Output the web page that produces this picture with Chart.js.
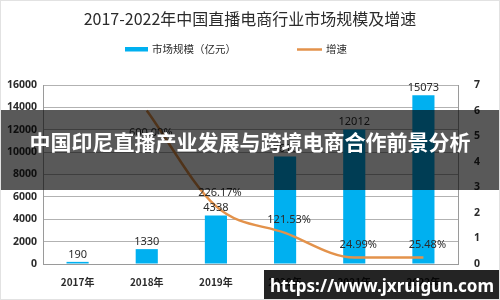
<!DOCTYPE html>
<html>
<head>
<meta charset="utf-8">
<script src="https://cdn.jsdelivr.net/npm/chart.js@4"></script>
<style>
  html, body { margin: 0; padding: 0; background: #fff; }
  canvas { display: block; }
</style>
</head>
<body>
<canvas id="chart" width="500" height="300"></canvas>
<script>
// data
const years = ['2017年', '2018年', '2019年', '2020年', '2021年', '2022年'];
const marketSize = [190, 1330, 4338, 9610, 12012, 15073];        // 亿元
const growth = [null, 6.00, 2.2617, 1.2153, 0.2499, 0.2548];     // 600% = 6
const growthLabels = [null, '600.00%', '226.17%', '121.53%', '24.99%', '25.48%'];

const chartTitle = '2017-2022年中国直播电商行业市场规模及增速';
const bannerText = '中国印尼直播产业发展与跨境电商合作前景分析';
const watermark = 'https://www.jxruigun.com';

const BLUE = '#00b0f0';
const ORANGE = '#e3924b';
const TEXT = '#2b2b2b';
const CJK = '"Noto Sans CJK SC", "Noto Sans", sans-serif';

// value labels, title, legend and the overlays
const decorPlugin = {
  id: 'decor',
  afterDatasetsDraw(chart) {
    const ctx = chart.ctx;
    ctx.save();
    ctx.fillStyle = TEXT;
    ctx.textAlign = 'center';

    // bar values
    ctx.font = '11px "Noto Sans", sans-serif';
    ctx.textBaseline = 'bottom';
    chart.getDatasetMeta(0).data.forEach((el, i) => {
      ctx.fillText(String(marketSize[i]), el.x, el.y - 2);
    });

    // growth labels (first one sits under the line)
    ctx.textBaseline = 'middle';
    chart.getDatasetMeta(1).data.forEach((el, i) => {
      if (!growthLabels[i]) return;
      const dy = i === 1 ? 22 : -13;
      ctx.fillText(growthLabels[i], el.x + 4, el.y + dy);
    });
    ctx.restore();
  },
  afterDraw(chart) {
    const ctx = chart.ctx;
    const W = chart.width;
    ctx.save();

    // title
    ctx.fillStyle = TEXT;
    ctx.textAlign = 'center';
    ctx.textBaseline = 'middle';
    ctx.font = '16px ' + CJK;
    ctx.fillText(chartTitle, W / 2, 19);

    // legend
    ctx.font = '10.5px ' + CJK;
    ctx.textAlign = 'left';
    ctx.fillStyle = BLUE;
    ctx.fillRect(125, 47, 23, 4.5);
    ctx.fillStyle = TEXT;
    ctx.fillText(chart.data.datasets[0].label, 152, 49.5);
    ctx.strokeStyle = ORANGE;
    ctx.lineWidth = 2.5;
    ctx.beginPath();
    ctx.moveTo(297, 49.5);
    ctx.lineTo(322, 49.5);
    ctx.stroke();
    ctx.fillText(chart.data.datasets[1].label, 326, 49.5);

    // dark banner across the middle
    ctx.fillStyle = 'rgba(0,0,0,0.65)';
    ctx.fillRect(0, 110, W, 80);
    ctx.fillStyle = '#fff';
    ctx.textAlign = 'center';
    ctx.font = 'bold 21px ' + CJK;
    ctx.fillText(bannerText, W / 2, 142);

    // watermark box
    ctx.fillStyle = 'rgba(0,0,0,0.86)';
    ctx.fillRect(264, 270, W - 264, 30);
    ctx.fillStyle = '#fff';
    ctx.font = 'bold 17px "Noto Sans", sans-serif';
    ctx.fillText(watermark, 382, 287);

    // thin frame of the picture
    ctx.strokeStyle = '#e2e2e2';
    ctx.lineWidth = 1;
    ctx.strokeRect(0.5, 0.5, W - 1, chart.height - 1);
    ctx.restore();
  }
};

const tickFont = { family: '"Noto Sans", sans-serif', size: 10.5, weight: 'bold' };

const ctx = document.getElementById('chart').getContext('2d');
new Chart(ctx, {
  data: {
    labels: years,
    datasets: [{
      type: 'bar',
      label: '市场规模（亿元）',
      data: marketSize,
      backgroundColor: BLUE,
      categoryPercentage: 1,
      barPercentage: 0.32,
      yAxisID: 'y',
      order: 2
    }, {
      type: 'line',
      label: '增速',
      data: growth,
      borderColor: ORANGE,
      borderWidth: 2.5,
      pointRadius: 0,
      tension: 0.4,
      cubicInterpolationMode: 'monotone',
      fill: false,
      yAxisID: 'y1',
      order: 1
    }]
  },
  options: {
    responsive: false,
    animation: false,
    layout: { padding: { top: 85, left: 0, right: 0, bottom: 0 } },
    plugins: {
      legend: { display: false },
      title: { display: false },
      tooltip: { enabled: false }
    },
    scales: {
      x: {
        grid: { display: false },
        border: { display: true, color: '#9a9a9a' },
        ticks: { color: TEXT, font: { family: CJK, size: 10, weight: 'bold' }, padding: 4 },
        afterFit(scale) { scale.height = 36; }
      },
      y: {
        position: 'left',
        min: 0,
        max: 16000,
        ticks: { stepSize: 2000, color: TEXT, font: tickFont, padding: 6, callback: v => String(v) },
        grid: { color: '#b2b2b2', drawTicks: false },
        border: { display: true, color: '#9a9a9a' },
        afterFit(scale) { scale.width = 43; }
      },
      y1: {
        position: 'right',
        min: 0,
        max: 7,
        ticks: { stepSize: 1, color: TEXT, font: tickFont, padding: 8, callback: v => String(v) },
        grid: { display: false },
        border: { display: true, color: '#9a9a9a' },
        afterFit(scale) { scale.width = 42; }
      }
    }
  },
  plugins: [decorPlugin]
});
</script>
</body>
</html>
